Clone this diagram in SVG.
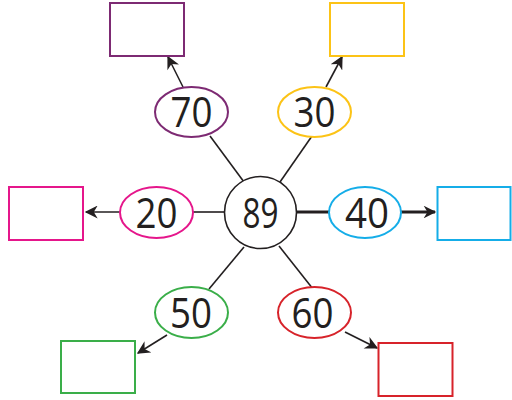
<svg xmlns="http://www.w3.org/2000/svg" width="512" height="400" viewBox="0 0 512 400">
<defs>
<marker id="ah" viewBox="0 0 10 10" refX="9" refY="5" markerWidth="14" markerHeight="13" markerUnits="userSpaceOnUse" orient="auto">
<path d="M0,0 L10,5 L0,10 L3,5 Z" fill="#231f20"/>
</marker>
<marker id="ah2" viewBox="0 0 10 10" refX="9" refY="5" markerWidth="4.6" markerHeight="4.2" orient="auto">
<path d="M0,0 L10,5 L0,10 L3,5 Z" fill="#231f20"/>
</marker>
</defs>
<style>
.box{fill:#fff;stroke-width:2}
.ell{fill:#fff;stroke-width:2}
.lbl{font-family:"Open Sans","Liberation Sans",Arial,sans-serif;font-weight:400;font-size:42px;fill:#231f20;text-anchor:middle}
.ln{stroke:#231f20;stroke-width:1.6;fill:none}
.ar{stroke:#231f20;stroke-width:1.6;fill:none;marker-end:url(#ah)}
</style>
<rect width="512" height="400" fill="#fff"/>
<g id="connectors">
<line class="ln" x1="210" y1="136" x2="244" y2="182"/>
<line class="ln" x1="312" y1="136" x2="280" y2="182"/>
<line class="ln" x1="193" y1="212" x2="224" y2="212"/>
<line x1="297" y1="212" x2="329" y2="212" stroke="#231f20" stroke-width="3"/>
<line class="ln" x1="209" y1="289" x2="244" y2="247"/>
<line class="ln" x1="313" y1="289" x2="279" y2="246"/>
<line class="ar" x1="183" y1="87" x2="168" y2="57"/>
<line class="ar" x1="326" y1="87" x2="342" y2="57"/>
<line class="ar" x1="120" y1="212" x2="86" y2="212"/>
<line x1="401" y1="212" x2="435" y2="212" stroke="#231f20" stroke-width="3" marker-end="url(#ah2)"/>
<line class="ar" x1="167" y1="335" x2="138" y2="353"/>
<line class="ar" x1="345" y1="332" x2="377" y2="348"/>
</g>
<g id="center">
<circle cx="260.5" cy="212.5" r="36" fill="#fff" stroke="#231f20" stroke-width="1.6"/>
<text class="lbl" x="260.5" y="228" textLength="36" lengthAdjust="spacingAndGlyphs">89</text>
</g>
<g id="n70">
<ellipse class="ell" cx="191.5" cy="112" rx="36.5" ry="25" stroke="#7d2a73"/>
<text class="lbl" x="191.5" y="127" textLength="42" lengthAdjust="spacingAndGlyphs">70</text>
</g>
<g id="n30">
<ellipse class="ell" cx="314.5" cy="112" rx="36.5" ry="25" stroke="#fcc316"/>
<text class="lbl" x="314.5" y="127" textLength="42" lengthAdjust="spacingAndGlyphs">30</text>
</g>
<g id="n20">
<ellipse class="ell" cx="156.5" cy="212.5" rx="36.5" ry="25.5" stroke="#e5168b"/>
<text class="lbl" x="156.5" y="228" textLength="42" lengthAdjust="spacingAndGlyphs">20</text>
</g>
<g id="n40">
<ellipse class="ell" cx="365" cy="212.5" rx="36" ry="25.5" stroke="#15ade8"/>
<text class="lbl" x="367" y="228" textLength="44" lengthAdjust="spacingAndGlyphs">40</text>
</g>
<g id="n50">
<ellipse class="ell" cx="191.5" cy="312.5" rx="36.5" ry="25.5" stroke="#3aae49"/>
<text class="lbl" x="191" y="328" textLength="42" lengthAdjust="spacingAndGlyphs">50</text>
</g>
<g id="n60">
<ellipse class="ell" cx="314.5" cy="312.5" rx="36.5" ry="25.5" stroke="#d7232a"/>
<text class="lbl" x="312.5" y="328" textLength="42" lengthAdjust="spacingAndGlyphs">60</text>
</g>
<g id="box70"><rect class="box" x="110" y="3" width="74" height="53" stroke="#7d2a73"/></g>
<g id="box30"><rect class="box" x="330" y="3" width="74" height="53" stroke="#fcc316"/></g>
<g id="box20"><rect class="box" x="9" y="187" width="74" height="53" stroke="#e5168b"/></g>
<g id="box40"><rect class="box" x="437.5" y="187" width="73" height="53" stroke="#15ade8"/></g>
<g id="box50"><rect class="box" x="61" y="341" width="74" height="52" stroke="#3aae49"/></g>
<g id="box60"><rect class="box" x="378.5" y="343" width="74" height="53" stroke="#d7232a"/></g>
</svg>
